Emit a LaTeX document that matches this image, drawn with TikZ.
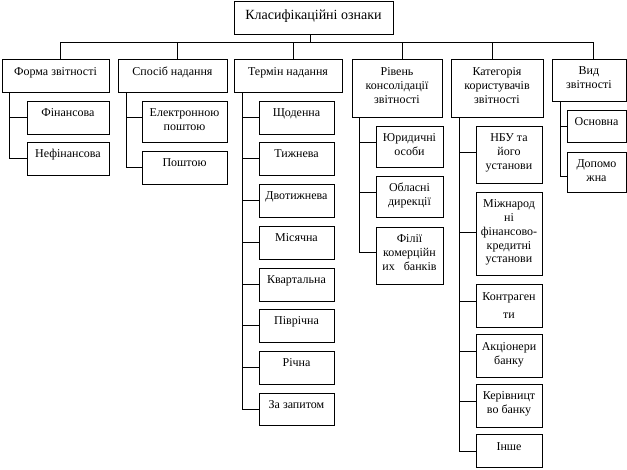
\documentclass[tikz,border=0pt]{standalone}
\usepackage{fontspec}
\setmainfont{Liberation Serif}
\tikzset{
  box/.style={draw, line width=0.9pt, inner sep=0pt, rectangle},
  lbl/.style={anchor=north, inner sep=0pt, align=center, font=\fontsize{12}{13.8}\selectfont},
  lbltop/.style={lbl, font=\fontsize{14}{16}\selectfont},
  wire/.style={line width=0.9pt},
}
% #1 label style, #2 name, #3 x1, #4 y1, #5 x2, #6 y2, #7 connector offset, #8 baseline offset, #9 text
\newcommand\bx[9][lbl]{%
  \node[box, minimum width={(#5-#3)*1pt}, minimum height={(#6-#4)*1pt}] (#2) at ({(#3+#5)/2},{(#4+#6)/2}) {};
  \node[#1] (#2t) at ([yshift={-(#8-10)*1pt}]#2.north) {\rule{0pt}{10pt}#9};
  \coordinate (#2c) at (#3,{#4+#7});
}
\begin{document}
\begin{tikzpicture}[x=1pt,y=-1pt]
\useasboundingbox (0,0) rectangle (627,469);
% top
\bx[lbltop]{top}{234}{1}{393}{34}{0}{19}{Класифікаційні ознаки}
% level 1
\bx{forma}{2}{59}{109}{92}{0}{17}{Форма звітності}
\bx{sposib}{118}{59}{227}{92}{0}{17}{Спосіб надання}
\bx{termin}{234}{59}{342}{92}{0}{17}{Термін надання}
\bx{riven}{352}{59}{442}{117}{0}{17}{Рівень\\консолідації\\звітності}
\bx{kat}{451}{59}{543}{117}{0}{17}{Категорія\\користувачів\\звітності}
\bx{vyd}{552}{59}{626}{101}{0}{16}{Вид\\звітності}
% column 1
\bx{fin}{27}{101}{109}{134}{16}{16}{Фінансова}
\bx{nefin}{27}{142}{109}{175}{16}{16}{Нефінансова}
% column 2
\bx{elek}{142}{101}{227}{142}{16}{16}{Електронною\\поштою}
\bx{posht}{142}{151}{227}{184}{16}{16}{Поштою}
% column 3
\bx{t1}{259}{101}{334}{134}{16}{16}{Щоденна}
\bx{t2}{259}{142}{334}{175}{16}{16}{Тижнева}
\bx{t3}{259}{184}{334}{217}{16}{16}{Двотижнева}
\bx{t4}{259}{226}{334}{259}{16}{16}{Місячна}
\bx{t5}{259}{268}{334}{301}{16}{16}{Квартальна}
\bx{t6}{259}{309}{334}{342}{16}{16}{Піврічна}
\bx{t7}{259}{351}{334}{384}{16}{16}{Річна}
\bx{t8}{259}{393}{334}{425}{16}{16}{За запитом}
% column 4
\bx{yur}{376}{126}{443}{167}{16}{16}{Юридичні\\особи}
\bx{obl}{376}{176}{443}{217}{16}{16}{Обласні\\дирекції}
\bx{fil}{376}{227}{443}{284}{25}{16}{Філії\\комерційн\\их\ \ \ банків}
% column 5
\bx{nbu}{476}{126}{542}{183}{26}{16}{НБУ та\\його\\установи}
\bx{mizh}{476}{192}{542}{275}{40}{16}{Міжнарод\\ні\\фінансово-\\кредитні\\установи}
\bx{kontr}{476}{284}{542}{327}{17}{17}{Контраген\\[4pt]ти}
\bx{akc}{476}{334}{542}{377}{17}{17}{Акціонери\\банку}
\bx{ker}{476}{384}{542}{427}{17}{16}{Керівницт\\во банку}
\bx{inshe}{476}{434}{542}{467}{17}{17}{Інше}
% column 6
\bx{osn}{567}{110}{626}{142}{16}{16}{Основна}
\bx{dop}{567}{152}{626}{192}{24}{16}{Допомо\\жна}
% bus
\coordinate (d0) at (310,42);
\coordinate (d1) at (60,42);
\coordinate (d2) at (177,42);
\coordinate (d3) at (293,42);
\coordinate (d4) at (402,42);
\coordinate (d5) at (492,42);
\coordinate (d6) at (593,42);
\draw[wire] (d1) -- (d6);
\draw[wire] (d0) -- (d0 |- top.south);
\foreach \i/\n in {1/forma,2/sposib,3/termin,4/riven,5/kat,6/vyd}
  \draw[wire] (d\i) -- (d\i |- \n.north);
% verticals
\coordinate (v1) at ([xshift=8pt]forma.south west);
\coordinate (v2) at ([xshift=9pt]sposib.south west);
\coordinate (v3) at ([xshift=9pt]termin.south west);
\coordinate (v4) at ([xshift=8pt]riven.south west);
\coordinate (v5) at ([xshift=9pt]kat.south west);
\coordinate (v6) at ([xshift=9pt]vyd.south west);
\draw[wire] (v1) |- (nefinc);
\draw[wire] (v2) |- (poshtc);
\draw[wire] (v3) |- (t8c);
\draw[wire] (v4) |- (filc);
\draw[wire] (v5) |- (inshec);
\draw[wire] (v6) |- (dopc);
\foreach \c/\v in {fin/v1,elek/v2,t1/v3,t2/v3,t3/v3,t4/v3,t5/v3,t6/v3,t7/v3,yur/v4,obl/v4,nbu/v5,mizh/v5,kontr/v5,akc/v5,ker/v5,osn/v6}
  \draw[wire] (\c c) -- (\v |- \c c);
\end{tikzpicture}
\end{document}
